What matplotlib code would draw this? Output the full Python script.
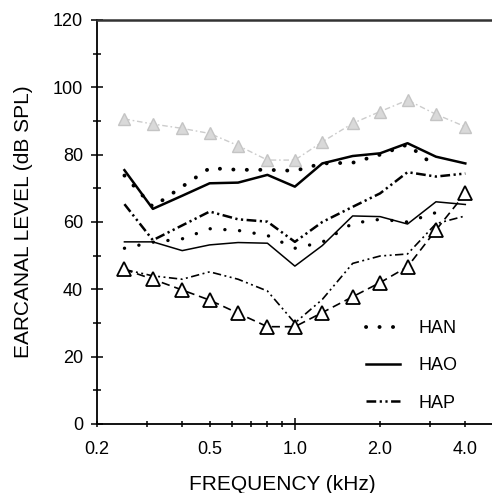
import matplotlib
matplotlib.use("Agg")
import matplotlib.pyplot as plt
from matplotlib.ticker import FixedLocator, FixedFormatter, NullFormatter

plt.rcParams['font.family'] = ['Liberation Sans', 'DejaVu Sans']
plt.rcParams['lines.scale_dashes'] = False

# 1/3-octave centre frequencies (kHz)
freq = [0.25, 0.315, 0.4, 0.5, 0.63, 0.8, 1.0, 1.25, 1.6, 2.0, 2.5, 3.15, 4.0]
freq_short = freq[:12]

# light grey reference curve (triangles)
grey_ref = [90.6, 89.1, 87.8, 86.3, 82.7, 78.4, 78.4, 83.8, 89.3, 92.8, 96.2, 92.0, 88.3]

# upper (thick) set
han_upper = [73.8, 64.5, 70.5, 76.0, 75.5, 75.5, 75.2, 77.4, 77.6, 80.0, 83.0, 76.4]
hao_upper = [75.4, 63.9, 67.8, 71.5, 71.7, 74.0, 70.5, 77.4, 79.6, 80.4, 83.4, 79.4, 77.4]
hap_upper = [65.3, 54.6, 59.0, 63.1, 60.8, 60.1, 54.1, 60.0, 64.5, 68.5, 74.8, 73.5, 74.4]

# lower (thin) set
han_lower = [52.2, 54.0, 55.0, 58.0, 57.5, 56.0, 52.2, 54.0, 59.6, 60.8, 60.0, 62.8]
hao_lower = [54.1, 54.1, 51.5, 53.2, 53.9, 53.7, 46.9, 53.0, 61.8, 61.6, 59.4, 66.0, 65.2]
hap_lower = [45.9, 44.0, 43.0, 45.2, 43.0, 39.5, 30.0, 37.0, 47.7, 49.9, 50.5, 59.5, 61.8]
tri_lower = [45.9, 43.0, 39.8, 36.8, 32.9, 28.9, 28.9, 33.1, 37.8, 42.0, 46.7, 57.6, 68.5]

legend_labels = ['HAN', 'HAO', 'HAP']
x_major = [0.2, 0.5, 1.0, 2.0, 4.0]
x_major_labels = ['0.2', '0.5', '1.0', '2.0', '4.0']
x_minor = [0.3, 0.4, 0.6, 0.7, 0.8, 0.9, 3.0]
y_major = [0, 20, 40, 60, 80, 100, 120]
y_minor = [10, 30, 50, 70, 90, 110]

fig = plt.figure(figsize=(4.92, 4.93), dpi=100)
ax = fig.add_axes([97/492, 1-424/493, (492-97)/492, (424-20)/493])
ax.set_xscale('log')
ax.set_xlim(0.2, 4.97)
ax.set_ylim(0, 120)

dashdotdot_thick = (0, (7, 2.5, 1.6, 2.5, 1.6, 2.5))
dashdotdot_thin = (0, (6, 2.5, 1.4, 2.5, 1.4, 2.5))

# grey reference
ax.plot(freq, grey_ref, color='#cccccc', lw=1.0, linestyle=(0, (4, 2, 1.2, 2)),
        marker='^', ms=8, mfc='#d9d9d9', mec='#c4c4c4', mew=1.0, zorder=2)

# upper
l_han, = ax.plot(freq_short, han_upper, color='black', lw=2.8, linestyle=(0, (0.1, 9.6)),
                 dash_capstyle='round', zorder=3)
l_hao, = ax.plot(freq, hao_upper, color='black', lw=1.8, zorder=3)
l_hap, = ax.plot(freq, hap_upper, color='black', lw=1.8, linestyle=dashdotdot_thick, zorder=3)

# lower
ax.plot(freq_short, han_lower, color='black', lw=2.4, linestyle=(0, (0.1, 10.5)),
        dash_capstyle='round', zorder=3)
ax.plot(freq, hao_lower, color='black', lw=1.1, zorder=3)
ax.plot(freq, hap_lower, color='black', lw=1.2, linestyle=dashdotdot_thin, zorder=3)
ax.plot(freq, tri_lower, color='black', lw=1.2, linestyle=(0, (6, 3.5)),
        marker='^', ms=9.5, mfc='white', mec='black', mew=1.3, zorder=4)

# spines
ax.spines['right'].set_visible(False)
for s in ['left', 'bottom']:
    ax.spines[s].set_linewidth(1.3)
ax.spines['top'].set_linewidth(1.8)
ax.spines['top'].set_color('#333333')

# ticks
ax.xaxis.set_major_locator(FixedLocator(x_major))
ax.xaxis.set_major_formatter(FixedFormatter(x_major_labels))
ax.xaxis.set_minor_locator(FixedLocator(x_minor))
ax.xaxis.set_minor_formatter(NullFormatter())
ax.yaxis.set_major_locator(FixedLocator(y_major))
ax.yaxis.set_minor_locator(FixedLocator(y_minor))

ax.tick_params(axis='x', which='both', direction='inout', length=4, width=1.1,
               top=False, labelsize=13, pad=10)
ax.tick_params(axis='y', which='major', direction='inout', length=8, width=1.1,
               right=False, labelsize=13, pad=6)
ax.tick_params(axis='y', which='minor', direction='inout', length=5.5, width=1.1, right=False)

# taller tick at 1.0 kHz
mticks = ax.xaxis.get_major_ticks()
mticks[2].tick1line.set_markersize(9)

ax.set_xlabel('FREQUENCY (kHz)', fontsize=15)
ax.xaxis.set_label_coords((282-97)/395, (424-475)/404)
ax.set_ylabel('EARCANAL LEVEL (dB SPL)', fontsize=15, labelpad=14)

leg = ax.legend([l_han, l_hao, l_hap], legend_labels, frameon=False, fontsize=13,
                loc='upper left', bbox_to_anchor=(366/492, 1-320/493),
                bbox_transform=fig.transFigure, borderpad=0, borderaxespad=0,
                handlelength=1.9, handletextpad=1.0, labelspacing=1.13)

fig.savefig('out.png', dpi=100)
